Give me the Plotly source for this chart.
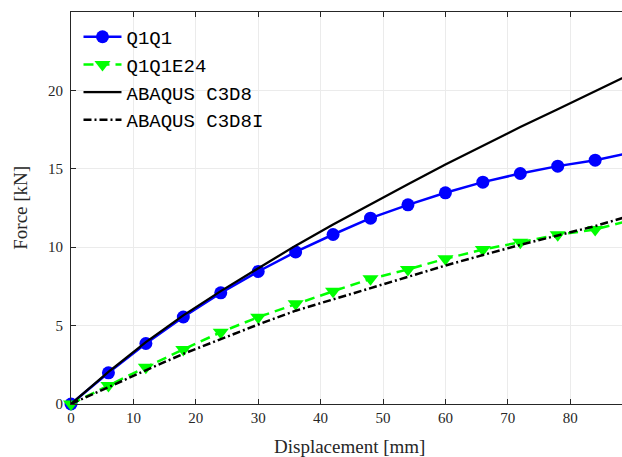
import plotly.graph_objects as go

# Displacement samples [mm]
disp = [0, 6, 12, 18, 24, 30, 36, 42, 48, 54, 60, 66, 72, 78, 84, 90]

# Force responses [kN]
q1q1 = [0, 1.99, 3.86, 5.55, 7.09, 8.45, 9.70, 10.81, 11.85, 12.70,
        13.47, 14.15, 14.70, 15.17, 15.55, 16.05]
q1q1e24 = [0, 1.18, 2.35, 3.48, 4.58, 5.54, 6.39, 7.19, 7.98, 8.58,
           9.26, 9.85, 10.32, 10.79, 11.13, 11.75]
c3d8 = [0, 2.05, 3.95, 5.65, 7.20, 8.65, 10.10, 11.45, 12.75, 14.02,
        15.27, 16.47, 17.66, 18.80, 19.95, 21.10]
c3d8i = [0, 1.10, 2.15, 3.20, 4.15, 5.07, 5.95, 6.68, 7.42, 8.15,
         8.83, 9.50, 10.15, 10.75, 11.35, 12.05]

x_ticks = [0, 10, 20, 30, 40, 50, 60, 70, 80]
y_ticks = [0, 5, 10, 15, 20]

serif = "Liberation Serif, Times New Roman, serif"
mono = "Liberation Mono, Courier New, monospace"

fig = go.Figure()
fig.add_trace(go.Scatter(
    x=disp, y=q1q1, name="Q1Q1", mode="lines+markers",
    line=dict(color="#0000ff", width=2.5),
    marker=dict(symbol="circle", size=13, color="#0000ff"),
    cliponaxis=False))
fig.add_trace(go.Scatter(
    x=disp, y=q1q1e24, name="Q1Q1E24", mode="lines+markers",
    line=dict(color="#00ff00", width=2.5, dash="10px,6px"),
    marker=dict(symbol="triangle-down", size=14, color="#00ff00"),
    cliponaxis=False))
fig.add_trace(go.Scatter(
    x=disp, y=c3d8, name="ABAQUS C3D8", mode="lines",
    line=dict(color="#000000", width=2.3)))
fig.add_trace(go.Scatter(
    x=disp, y=c3d8i, name="ABAQUS C3D8I", mode="lines",
    line=dict(color="#000000", width=2.5, dash="8px,3px,2px,3px")))

axis_common = dict(
    showline=True, linecolor="#262626", linewidth=1,
    ticks="inside", ticklen=5, tickcolor="#262626", tickwidth=1,
    showgrid=True, gridcolor="#ebebeb", gridwidth=1,
    zeroline=False,
    tickfont=dict(family=serif, size=15, color="#262626"),
)

fig.update_layout(
    width=622, height=457,
    margin=dict(l=71, r=0, t=12, b=53),
    plot_bgcolor="white", paper_bgcolor="white",
    showlegend=True,
    legend=dict(
        x=0.0136, y=0.985, xanchor="left", yanchor="top",
        bgcolor="rgba(255,255,255,0)", borderwidth=0,
        font=dict(family=mono, size=19, color="#000000"),
        itemwidth=38,
    ),
    xaxis=dict(range=[0, 88.3], tickvals=x_ticks, mirror="ticks",
               **axis_common),
    yaxis=dict(range=[0, 25], tickvals=y_ticks, ticklabelstandoff=4,
               **axis_common),
    annotations=[
        dict(text="Displacement [mm]", xref="paper", yref="paper",
             x=0.506, y=-0.108, xanchor="center", yanchor="middle",
             showarrow=False,
             font=dict(family=serif, size=19, color="#262626")),
        dict(text="Force [kN]", xref="paper", yref="paper",
             x=-0.093, y=0.5, xanchor="center", yanchor="middle",
             textangle=-90, showarrow=False,
             font=dict(family=serif, size=19, color="#262626")),
    ],
)

fig.write_html("out.html")
